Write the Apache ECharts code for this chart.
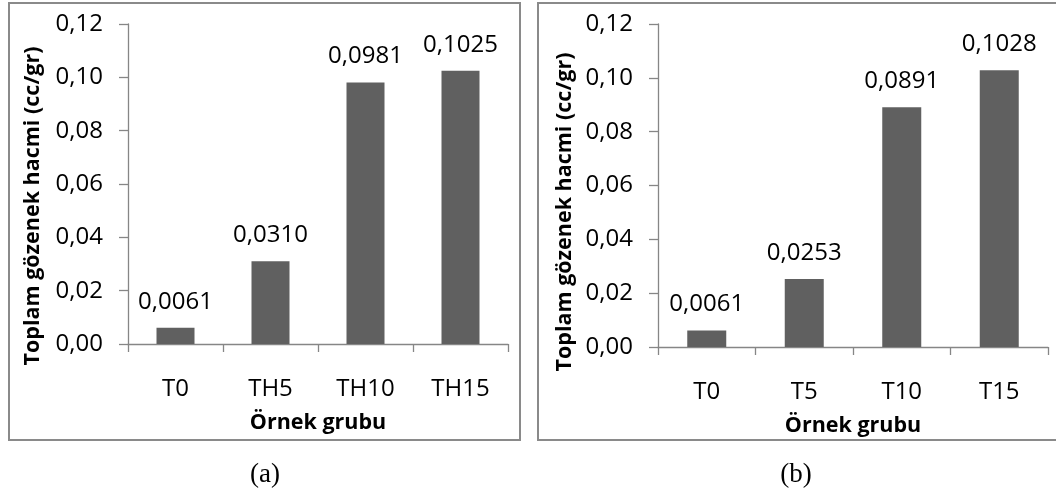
<!DOCTYPE html>
<html>
<head>
<meta charset="utf-8">
<script src="https://cdn.jsdelivr.net/npm/echarts@6/dist/echarts.min.js"></script>
<style>
  html, body { margin: 0; padding: 0; background: #ffffff; }
  #chart { width: 1056px; height: 497px; }
</style>
</head>
<body>
<div id="chart"></div>
<script>
// Pore volume per sample group, two sample series
const categoriesA = ['T0', 'TH5', 'TH10', 'TH15'];
const valuesA = [0.0061, 0.0310, 0.0981, 0.1025];
const categoriesB = ['T0', 'T5', 'T10', 'T15'];
const valuesB = [0.0061, 0.0253, 0.0891, 0.1028];
const yTicks = { min: 0, max: 0.12, interval: 0.02 };
const yTitle = 'Toplam gözenek hacmi (cc/gr)';
const xTitle = 'Örnek grubu';
const captions = ['(a)', '(b)'];

const FONT = 'Open Sans';
const AXIS_GRAY = '#868686';
const BAR_GRAY = '#606060';
const LABEL_SIZE = 24;
const TITLE_SIZE = 21.5;

const comma = (v, d) => v.toFixed(d).replace('.', ',');

function xAxisFor(idx, cats) {
  return {
    type: 'category', gridIndex: idx, data: cats,
    axisLine: { lineStyle: { color: AXIS_GRAY, width: 1.3 } },
    axisTick: { show: true, length: 8, lineStyle: { color: AXIS_GRAY, width: 1.3 } },
    axisLabel: { color: '#000', fontFamily: FONT, fontSize: LABEL_SIZE, margin: 33 },
    name: xTitle, nameLocation: 'middle', nameGap: 68,
    nameTextStyle: { color: '#000', fontFamily: FONT, fontSize: TITLE_SIZE, fontWeight: 'bold' }
  };
}

function yAxisFor(idx) {
  return {
    type: 'value', gridIndex: idx,
    min: yTicks.min, max: yTicks.max, interval: yTicks.interval,
    splitLine: { show: false },
    axisLine: { show: true, lineStyle: { color: AXIS_GRAY, width: 1.3 } },
    axisTick: { show: true, length: 9, lineStyle: { color: AXIS_GRAY, width: 1.3 } },
    axisLabel: { color: '#000', fontFamily: FONT, fontSize: LABEL_SIZE, margin: 25,
                 formatter: v => comma(v, 2) }
  };
}

function barsFor(idx, vals) {
  return {
    type: 'bar', xAxisIndex: idx, yAxisIndex: idx, data: vals,
    barWidth: '40%',
    itemStyle: { color: BAR_GRAY },
    label: { show: true, position: 'top', distance: 14, color: '#000',
             fontFamily: FONT, fontSize: LABEL_SIZE, formatter: p => comma(p.value, 4) },
    silent: true
  };
}

const chart = echarts.init(document.getElementById('chart'), null, { renderer: 'canvas' });
chart.setOption({
  animation: false,
  backgroundColor: '#ffffff',
  grid: [
    { left: 128, top: 24, width: 380, height: 320 },
    { left: 658, top: 24, width: 390, height: 323 }
  ],
  xAxis: [xAxisFor(0, categoriesA), xAxisFor(1, categoriesB)],
  yAxis: [yAxisFor(0), yAxisFor(1)],
  series: [barsFor(0, valuesA), barsFor(1, valuesB)],
  graphic: [
    { type: 'rect', shape: { x: 9, y: 3, width: 511, height: 437 },
      style: { fill: 'none', stroke: '#8a8a8a', lineWidth: 2 }, z: -1 },
    { type: 'rect', shape: { x: 538, y: 3, width: 530, height: 437 },
      style: { fill: 'none', stroke: '#8a8a8a', lineWidth: 2 }, z: -1 },
    { type: 'text', x: 33, y: 206, rotation: Math.PI / 2,
      style: { text: yTitle, fill: '#000', font: 'bold ' + TITLE_SIZE + 'px "Open Sans"',
               textAlign: 'center', textVerticalAlign: 'middle' } },
    { type: 'text', x: 565, y: 212, rotation: Math.PI / 2,
      style: { text: yTitle, fill: '#000', font: 'bold ' + TITLE_SIZE + 'px "Open Sans"',
               textAlign: 'center', textVerticalAlign: 'middle' } },
    { type: 'text', x: 265, y: 475,
      style: { text: captions[0], fill: '#000', font: '27px "Liberation Serif"',
               textAlign: 'center', textVerticalAlign: 'middle' } },
    { type: 'text', x: 796, y: 475,
      style: { text: captions[1], fill: '#000', font: '27px "Liberation Serif"',
               textAlign: 'center', textVerticalAlign: 'middle' } }
  ]
});
</script>
</body>
</html>
